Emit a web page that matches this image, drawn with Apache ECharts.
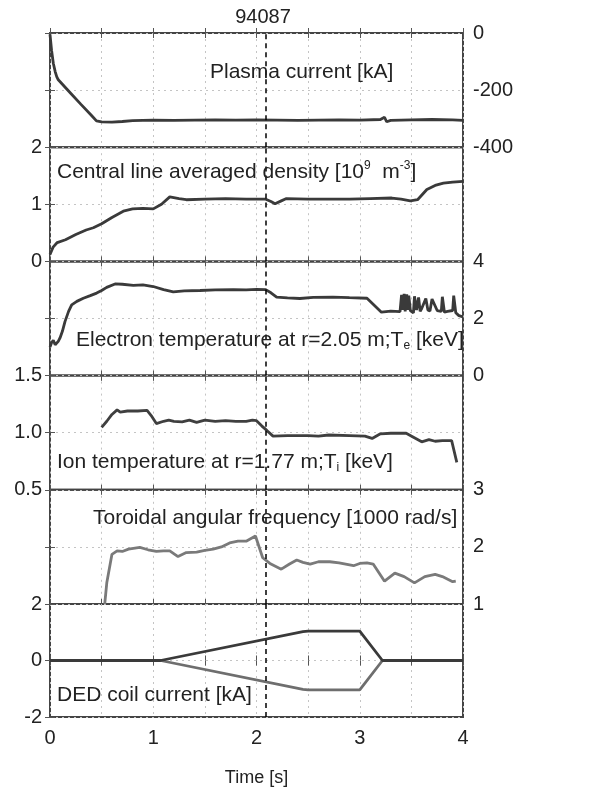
<!DOCTYPE html>
<html><head><meta charset="utf-8">
<script src="https://cdn.jsdelivr.net/npm/echarts@6/dist/echarts.min.js"></script>
<style>html,body{margin:0;padding:0;background:#fff}#c{width:591px;height:788px}</style>
</head><body><div id="c"></div>
<script>
// ---------------- data ----------------
const shotNumber = '94087';
const xTickLabels = ['0', '1', '2', '3', '4'];
const xAxisTitle = 'Time [s]';
const markerTime = 2.09;

// Plasma current [kA]  [t, value]
const plasmaCurrent = [[0,-5],[0.015,-60],[0.032,-106],[0.05,-135],[0.065,-153],[0.08,-164],[0.097,-171],[0.2,-211],[0.3,-250],[0.4,-288],[0.45,-308],[0.5,-311],[0.6,-312],[0.7,-310],[0.8,-307],[1.0,-305],[1.2,-306],[1.4,-305],[1.6,-304],[1.8,-305],[2.0,-304],[2.2,-305],[2.4,-306],[2.6,-305],[2.8,-304],[3.0,-305],[3.2,-303],[3.24,-295],[3.26,-311],[3.3,-306],[3.5,-304],[3.7,-303],[3.9,-304],[4.0,-306]];

// Central line averaged density
const density = [[0,0.12],[0.03,0.25],[0.07,0.33],[0.15,0.38],[0.25,0.47],[0.35,0.55],[0.42,0.59],[0.5,0.66],[0.6,0.77],[0.71,0.88],[0.8,0.92],[0.9,0.93],[1.0,0.92],[1.08,1.0],[1.16,1.13],[1.25,1.1],[1.32,1.08],[1.5,1.09],[1.7,1.1],[1.9,1.09],[2.09,1.09],[2.14,1.05],[2.18,1.01],[2.24,1.06],[2.29,1.1],[2.5,1.09],[2.7,1.09],[2.9,1.09],[3.1,1.1],[3.31,1.11],[3.4,1.09],[3.49,1.06],[3.56,1.08],[3.65,1.26],[3.73,1.33],[3.81,1.37],[3.9,1.39],[4.0,1.4]];

// Electron temperature [keV]
const electronTemp = [[0,1.0],[0.015,1.15],[0.032,1.24],[0.05,1.08],[0.065,1.13],[0.08,1.2],[0.097,1.32],[0.12,1.55],[0.145,1.89],[0.18,2.25],[0.21,2.48],[0.26,2.6],[0.323,2.71],[0.39,2.8],[0.452,2.89],[0.5,2.98],[0.549,3.09],[0.63,3.21],[0.7,3.2],[0.807,3.16],[0.9,3.18],[1.0,3.12],[1.1,3.01],[1.194,2.93],[1.3,2.97],[1.453,2.98],[1.6,3.0],[1.775,3.01],[1.9,3.0],[2.0,3.02],[2.089,3.01],[2.14,2.9],[2.195,2.75],[2.3,2.72],[2.42,2.7],[2.55,2.74],[2.74,2.75],[2.9,2.73],[3.07,2.71],[3.13,2.5],[3.21,2.22],[3.3,2.26],[3.39,2.24],[3.405,2.83],[3.415,2.3],[3.43,2.86],[3.44,2.25],[3.455,2.85],[3.465,2.3],[3.475,2.8],[3.49,2.28],[3.52,2.2],[3.53,2.78],[3.55,2.3],[3.57,2.74],[3.585,2.25],[3.6,2.35],[3.64,2.7],[3.66,2.3],[3.68,2.26],[3.7,2.68],[3.75,2.28],[3.79,2.25],[3.8,2.76],[3.82,2.22],[3.85,2.25],[3.9,2.28],[3.91,2.8],[3.93,2.2],[3.96,2.1],[4.0,2.06]];

// Ion temperature [keV]
const ionTemp = [[0.5,1.047],[0.55,1.1],[0.6,1.16],[0.65,1.2],[0.68,1.18],[0.75,1.19],[0.85,1.19],[0.94,1.195],[0.98,1.15],[1.03,1.08],[1.1,1.1],[1.15,1.11],[1.2,1.1],[1.28,1.095],[1.35,1.11],[1.42,1.09],[1.5,1.11],[1.6,1.1],[1.7,1.105],[1.8,1.1],[1.9,1.1],[1.96,1.11],[2.0,1.105],[2.05,1.06],[2.1,1.02],[2.16,0.97],[2.3,0.975],[2.5,0.975],[2.6,0.97],[2.7,0.98],[2.9,0.975],[3.05,0.97],[3.12,0.95],[3.2,0.99],[3.3,0.995],[3.45,0.995],[3.52,0.96],[3.6,0.92],[3.67,0.94],[3.73,0.925],[3.8,0.93],[3.89,0.93],[3.94,0.74]];

// Toroidal angular frequency [1000 rad/s]
const toroidalFreq = [[0.53,1.0],[0.55,1.37],[0.6,1.87],[0.65,1.93],[0.7,1.92],[0.76,1.96],[0.87,1.99],[0.95,1.95],[1.03,1.92],[1.1,1.93],[1.16,1.93],[1.24,1.83],[1.32,1.9],[1.42,1.91],[1.5,1.94],[1.58,1.96],[1.66,2.0],[1.74,2.07],[1.82,2.1],[1.9,2.1],[1.99,2.19],[2.06,1.81],[2.13,1.71],[2.24,1.61],[2.32,1.7],[2.39,1.77],[2.45,1.73],[2.52,1.7],[2.6,1.74],[2.71,1.74],[2.8,1.72],[2.94,1.67],[3.0,1.71],[3.07,1.72],[3.13,1.7],[3.24,1.4],[3.34,1.54],[3.43,1.48],[3.53,1.37],[3.63,1.48],[3.73,1.52],[3.8,1.48],[3.9,1.39],[3.93,1.4]];

// DED coil current [kA]
const dedUpper = [[0,0],[1.07,0],[2.45,1.02],[2.5,1.04],[3.0,1.04],[3.22,0],[4,0]];
const dedLower = [[0,0],[1.07,0],[2.45,-1.02],[2.5,-1.04],[3.0,-1.04],[3.22,0],[4,0]];

// y-axis ranges per panel
const yMin = [-400, 0, 0, 0.5, 1, -2];
const yMax = [0, 2, 4, 1.5, 3, 2];
const yDecimals = [0, 0, 0, 1, 0, 0];

const panelLabels = [
  'Plasma current [kA]',
  'Central line averaged density [10{sup|9}  m{sup|-3}]',
  'Electron temperature at r=2.05 m;T{sub|e} [keV]',
  'Ion temperature at r=1.77 m;T{sub|i} [keV]',
  'Toroidal angular frequency [1000 rad/s]',
  'DED coil current [kA]'
];

// ---------------- layout / style ----------------
const FONT = "'Liberation Sans', Arial, sans-serif";
const labelSide = ['right', 'left', 'right', 'left', 'right', 'left'];
const gridTop = 33, gridH = 114.2, gridLeft = 50, gridRight = 128;
const labelPos = [[210, 72], [57, 172], [76, 340], [57, 462], [93, 518], [57, 695]];

const chart = echarts.init(document.getElementById('c'), null, {renderer: 'canvas'});

const grids = [], xAxes = [], yAxes = [], series = [];
for (let i = 0; i < 6; i++) {
  grids.push({left: gridLeft, right: gridRight, top: gridTop + i * gridH, height: gridH,
    show: true, borderColor: '#444', borderWidth: 2, backgroundColor: 'transparent'});
  const last = i === 5;
  xAxes.push({type: 'value', gridIndex: i, min: 0, max: 4, interval: 0.5, position: 'bottom',
    axisLine: {show: false},
    axisTick: {show: true, inside: true, length: 5, lineStyle: {color: '#555', width: 1}},
    splitLine: {show: true, lineStyle: {color: '#c4c4c4', type: [2, 4], width: 1}},
    axisLabel: {show: last, margin: 11, fontSize: 20, color: '#222', fontFamily: FONT,
      formatter: v => (Number.isInteger(v) ? xTickLabels[v] : '')},
    name: last ? xAxisTitle : '', nameLocation: 'middle', nameGap: 52,
    nameTextStyle: {fontSize: 18, color: '#222', fontFamily: FONT}
  });
  xAxes.push({type: 'value', gridIndex: i, min: 0, max: 4, interval: 0.5, position: 'top',
    axisLine: {show: false}, splitLine: {show: false}, axisLabel: {show: false},
    axisTick: {show: true, inside: true, length: 5, lineStyle: {color: '#555', width: 1}}});
  const half = (yMax[i] - yMin[i]) / 2;
  const other = labelSide[i] === 'left' ? 'right' : 'left';
  yAxes.push({type: 'value', gridIndex: i, min: yMin[i], max: yMax[i], interval: half,
    position: labelSide[i], axisLine: {show: false},
    axisTick: {show: true, inside: true, length: 5, lineStyle: {color: '#555'}},
    splitLine: {show: true, lineStyle: {color: '#c4c4c4', type: [2, 4], width: 1}},
    axisLabel: {show: true, fontSize: 20, color: '#222', fontFamily: FONT,
      margin: labelSide[i] === 'left' ? 8 : 10,
      formatter: v => v.toFixed(yDecimals[i])}
  });
  yAxes.push({type: 'value', gridIndex: i, min: yMin[i], max: yMax[i], interval: half,
    position: other, axisLine: {show: false}, splitLine: {show: false}, axisLabel: {show: false},
    axisTick: {show: true, inside: true, length: 5, lineStyle: {color: '#555'}}});
}

const panelData = [plasmaCurrent, density, electronTemp, ionTemp, toroidalFreq, dedUpper];
const panelColor = ['#3a3a3a', '#3a3a3a', '#3a3a3a', '#3f3f3f', '#7a7a7a', '#3a3a3a'];
const markLine = {silent: true, symbol: ['none', 'none'], label: {show: false},
  lineStyle: {color: '#000', type: [5, 4], width: 1.5}, data: [{xAxis: markerTime}], animation: false};
for (let i = 0; i < 6; i++) {
  series.push({type: 'line', xAxisIndex: 2 * i, yAxisIndex: 2 * i, data: panelData[i],
    showSymbol: false, lineStyle: {color: panelColor[i], width: 2.8}, z: 3, markLine: markLine});
}
series.push({type: 'line', xAxisIndex: 10, yAxisIndex: 10, data: dedLower, showSymbol: false,
  lineStyle: {color: '#6e6e6e', width: 2.8}, z: 2});

const rich = {
  sup: {fontSize: 12, fontFamily: FONT, fill: '#222', verticalAlign: 'top', lineHeight: 12},
  sub: {fontSize: 12, fontFamily: FONT, fill: '#222', verticalAlign: 'bottom', lineHeight: 12}
};
const graphics = [{type: 'text', x: 263, y: 17, style: {text: shotNumber, font: '20px ' + FONT,
  fill: '#222', align: 'center', verticalAlign: 'middle'}}];
panelLabels.forEach((t, i) => {
  graphics.push({type: 'text', x: labelPos[i][0], y: labelPos[i][1], z: 10,
    style: {text: t, font: '21px ' + FONT, fontSize: 21, fill: '#222', align: 'left', verticalAlign: 'middle',
      lineHeight: 24, rich: rich}});
});

chart.setOption({
  animation: false,
  backgroundColor: '#fff',
  grid: grids, xAxis: xAxes, yAxis: yAxes, series: series, graphic: graphics
});
</script></body></html>
